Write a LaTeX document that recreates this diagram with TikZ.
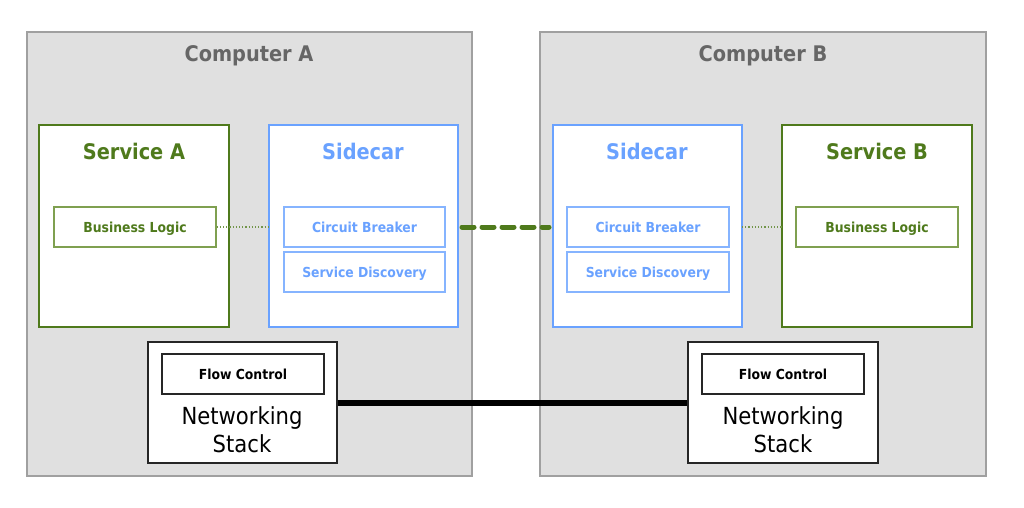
\documentclass[tikz,border=0pt]{standalone}
\usepackage{fontspec}
\usetikzlibrary{calc}
\setmainfont{DejaVu Sans Condensed}
\begin{document}
\definecolor{boxgray}{HTML}{E0E0E0}
\definecolor{edgegray}{HTML}{A0A0A0}
\definecolor{titlegray}{HTML}{666666}
\definecolor{svcgreen}{HTML}{4F7A1C}
\definecolor{ltgreen}{HTML}{7FA050}
\definecolor{scblue}{HTML}{6AA2FF}
\definecolor{ltblue}{HTML}{86B4FF}
\begin{tikzpicture}[x=1pt,y=-1pt,
  computer/.style={draw=edgegray,fill=boxgray,line width=1.2pt},
  service/.style={draw=svcgreen,fill=white,line width=2.6pt},
  sidecar/.style={draw=scblue,fill=white,line width=2.6pt},
  small/.style={font=\bfseries\fontsize{13.8}{16}\selectfont,text height=10pt,text depth=0pt},
  bizbox/.style={small,draw=ltgreen,fill=white,line width=1.3pt,text=svcgreen},
  partbox/.style={small,draw=ltblue,fill=white,line width=1.3pt,text=scblue},
  netbox/.style={draw=black!85,fill=white,line width=1.3pt},
  flowbox/.style={small,draw=black!85,fill=white,line width=1.3pt},
  bigtitle/.style={font=\bfseries\fontsize{21.5}{24}\selectfont},
  nettext/.style={font=\fontsize{23.5}{28}\selectfont,align=center}]
\useasboundingbox (0,0) rectangle (1024,507);
\fill[white] (0,0) rectangle (1024,507);

% machines
\path[computer] (27,32) rectangle (472,476);
\path[computer] (540,32) rectangle (986,476);
\node[bigtitle,text=titlegray] (tA) at (249,56) {Computer A};
\node[bigtitle,text=titlegray] (tB) at (763,56) {Computer B};

% computer A: service and sidecar
\draw[service] (39,125) rectangle (229,327);
\node[bigtitle,text=svcgreen] (sA) at (134,151) {Service A};
\node[bizbox,minimum width=162pt,minimum height=40pt] (blA) at (135,227) {Business Logic};

\draw[sidecar] (269,125) rectangle (458,327);
\coordinate (scAl) at (269,227);
\coordinate (scAr) at (458,227);
\node[bigtitle,text=scblue] (scA) at (363,151) {Sidecar};
\node[partbox,minimum width=161pt,minimum height=40pt] (cbA) at (364.5,227) {Circuit Breaker};
\node[partbox,minimum width=161pt,minimum height=40pt] (sdA) at (364.5,272) {Service Discovery};

% computer B: sidecar and service
\draw[sidecar] (553,125) rectangle (742,327);
\coordinate (scBl) at (553,227);
\coordinate (scBr) at (742,227);
\node[bigtitle,text=scblue] (scB) at (647,151) {Sidecar};
\node[partbox,minimum width=162pt,minimum height=40pt] (cbB) at (648,227) {Circuit Breaker};
\node[partbox,minimum width=162pt,minimum height=40pt] (sdB) at (648,272) {Service Discovery};

\draw[service] (782,125) rectangle (972,327);
\coordinate (svBl) at (782,227);
\node[bigtitle,text=svcgreen] (sB) at (877,151) {Service B};
\node[bizbox,minimum width=162pt,minimum height=40pt] (blB) at (877,227) {Business Logic};

% networking stacks
\node[netbox,minimum width=189pt,minimum height=121pt] (nsA) at (242.5,402.5) {};
\node[flowbox,minimum width=162pt,minimum height=40pt] (fcA) at (243,374) {Flow Control};
\node[nettext] (ntA) at (242,430) {Networking\\Stack};

\node[netbox,minimum width=190pt,minimum height=121pt] (nsB) at (783,402.5) {};
\node[flowbox,minimum width=162pt,minimum height=40pt] (fcB) at (783,374) {Flow Control};
\node[nettext] (ntB) at (783,430) {Networking\\Stack};

% connectors
\draw[svcgreen!80,line width=1.2pt,dotted] (blA.east) -- (scAl);
\draw[svcgreen!80,line width=1.2pt,dotted] (scBr) -- (svBl);
\draw[svcgreen,line width=5pt,dash pattern=on 12pt off 8pt,line cap=round] ($(scAr)+(4,0)$) -- ($(scBl)+(-4,0)$);
\draw[black,line width=6pt] (nsA.east) -- (nsB.west);
\end{tikzpicture}
\end{document}
